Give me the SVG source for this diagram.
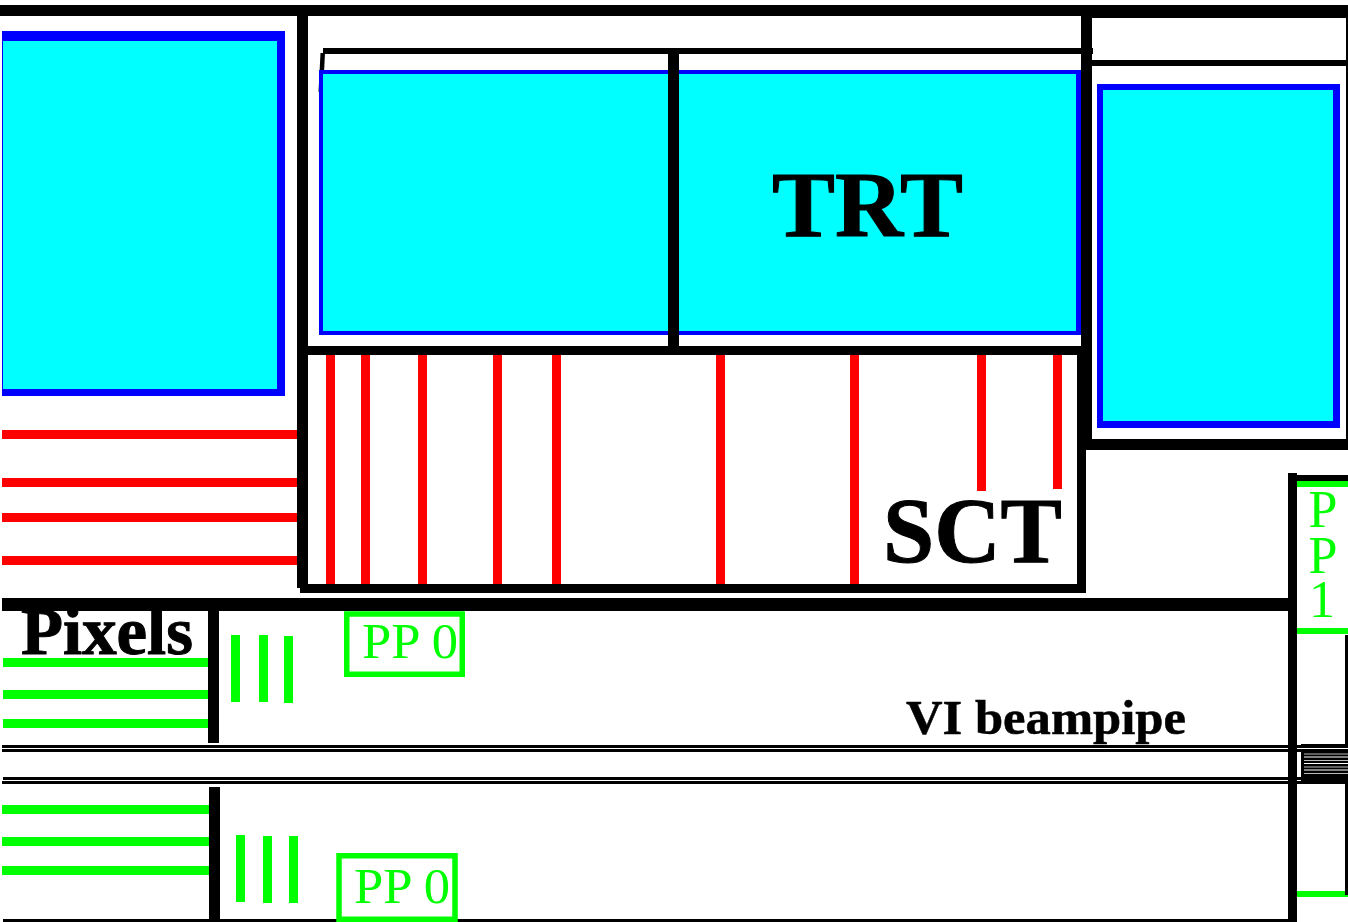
<svg xmlns="http://www.w3.org/2000/svg" width="1348" height="922" viewBox="0 0 1348 922">
<style>
.k{fill:#000}.r{fill:#f00}.g{fill:#0f0}.bl{fill:#00f}.c{fill:#0ff}
.t{font-family:"Liberation Serif",serif}
.big{font-weight:bold;fill:#000;stroke:#000;stroke-width:1}
.gt{fill:#0f0}
</style>
<rect width="1348" height="922" fill="#fff"/>
<path id="trt-tick" class="k" d="M320.500 53H325L323 92H318.500z"/>
<g id="trt-left-box"><rect class="bl" x="2" y="31" width="283" height="365"/><rect class="c" x="3" y="41" width="274" height="348"/></g>
<g id="trt"><rect class="bl" x="319" y="70" width="762" height="265"/><rect class="c" x="323" y="74" width="753" height="257"/>
<text class="t big" x="772" y="236" font-size="94" textLength="191" lengthAdjust="spacingAndGlyphs">TRT</text></g>
<g id="trt-right-box"><rect class="bl" x="1097" y="84" width="243" height="344"/><rect class="c" x="1103" y="90" width="230" height="331"/></g>
<text class="t big" x="21" y="654" font-size="68" textLength="172" lengthAdjust="spacingAndGlyphs">Pixels</text>
<g id="frame">
<rect class="k" x="0" y="5" width="1348" height="11"/><rect class="k" x="1081" y="5" width="267" height="13"/>
<rect class="k" x="297" y="5" width="11" height="583"/>
<rect class="k" x="1081" y="5" width="11" height="445"/>
<path class="k" d="M323 48H1093V54H323z"/>
<rect class="k" x="1092" y="60" width="254" height="6"/>
<rect class="k" x="1346" y="18" width="2" height="425"/>
<rect class="k" x="668" y="50" width="11" height="298"/>
<rect class="k" x="1085" y="439" width="263" height="11"/>
<rect class="k" x="303" y="346" width="782" height="9"/>
<rect class="k" x="1077" y="350" width="9" height="243"/>
<rect class="k" x="300" y="584" width="786" height="9"/>
<rect class="k" x="2" y="598" width="1288" height="13"/>
<rect class="k" x="1288" y="473" width="9" height="449"/>
<rect class="k" x="1297" y="475" width="51" height="7"/>
<rect class="k" x="208" y="610" width="11" height="133"/>
<rect class="k" x="209" y="787" width="11" height="133"/>
</g>
<g id="sct">
<rect class="r" x="326" y="355" width="9" height="229"/><rect class="r" x="361" y="355" width="9" height="229"/><rect class="r" x="418" y="355" width="9" height="229"/><rect class="r" x="493" y="355" width="9" height="229"/><rect class="r" x="552" y="355" width="9" height="229"/><rect class="r" x="716" y="355" width="9" height="229"/><rect class="r" x="850" y="355" width="9" height="229"/>
<rect class="r" x="977" y="355" width="9" height="136"/><rect class="r" x="1053" y="355" width="9" height="134"/>
<rect class="r" x="2" y="430" width="295" height="9"/><rect class="r" x="2" y="478" width="295" height="9"/><rect class="r" x="2" y="513" width="295" height="9"/><rect class="r" x="2" y="556" width="295" height="9"/>
<text class="t big" x="883" y="562" font-size="93" textLength="179" lengthAdjust="spacingAndGlyphs">SCT</text>
</g>
<g id="pixels">
<rect class="g" x="3" y="658" width="205" height="9"/><rect class="g" x="3" y="690" width="205" height="9"/><rect class="g" x="3" y="719" width="205" height="9"/>
<rect class="g" x="231" y="635" width="9" height="67"/><rect class="g" x="259" y="635" width="9" height="67"/><rect class="g" x="284" y="636" width="9" height="67"/>
<rect class="g" x="2" y="805" width="207" height="9"/><rect class="g" x="2" y="837" width="207" height="9"/><rect class="g" x="2" y="866" width="207" height="9"/>
<rect class="g" x="236" y="835" width="9" height="67"/><rect class="g" x="263" y="836" width="9" height="67"/><rect class="g" x="289" y="836" width="9" height="67"/>
</g>
<g id="pp0-top"><rect x="346.750" y="614" width="115.500" height="60.250" fill="none" stroke="#0f0" stroke-width="5.500"/><text class="t gt" x="362" y="658" font-size="50" textLength="96" lengthAdjust="spacingAndGlyphs">PP 0</text></g>
<g id="beampipe">
<rect class="k" x="2" y="745" width="1299" height="3"/><rect class="k" x="2" y="749" width="1299" height="3"/>
<rect class="k" x="3" y="777" width="1298" height="3"/><rect class="k" x="2" y="781" width="1299" height="3"/>
<text class="t big" style="stroke-width:.5" x="906" y="734" font-size="48" textLength="280" lengthAdjust="spacingAndGlyphs">VI beampipe</text>
</g>
<g id="pp0-bottom"><rect class="k" x="3" y="919" width="1285" height="3"/><rect x="339" y="855.750" width="116" height="63.500" fill="none" stroke="#0f0" stroke-width="5.500"/><text class="t gt" x="354" y="903" font-size="50" textLength="96" lengthAdjust="spacingAndGlyphs">PP 0</text></g>
<g id="pp1">
<rect class="g" x="1297" y="481" width="51" height="6"/><rect class="g" x="1297" y="628" width="51" height="6"/>
<rect class="g" x="1297" y="891" width="51" height="6"/>
<text class="t gt" x="1323" y="527" font-size="52" text-anchor="middle">P</text>
<text class="t gt" x="1323" y="573" font-size="52" text-anchor="middle">P</text>
<text class="t gt" x="1322" y="617" font-size="52" text-anchor="middle">1</text>
<rect class="k" x="1345" y="635" width="3" height="110"/><rect class="k" x="1345" y="777" width="3" height="118"/>
<rect class="k" x="1301" y="744" width="47" height="40"/>
<path d="M1301 748.500H1348" stroke="#fff" stroke-width="1" fill="none"/>
<path d="M1304 754H1348M1304 760.500H1348M1304 767H1348M1304 773.500H1348" stroke="#bbb" stroke-width="1" fill="none"/>
<path d="M1304 757H1348M1304 763.500H1348M1304 770H1348" stroke="#fff" stroke-width="1.200" fill="none"/>
</g>
</svg>
